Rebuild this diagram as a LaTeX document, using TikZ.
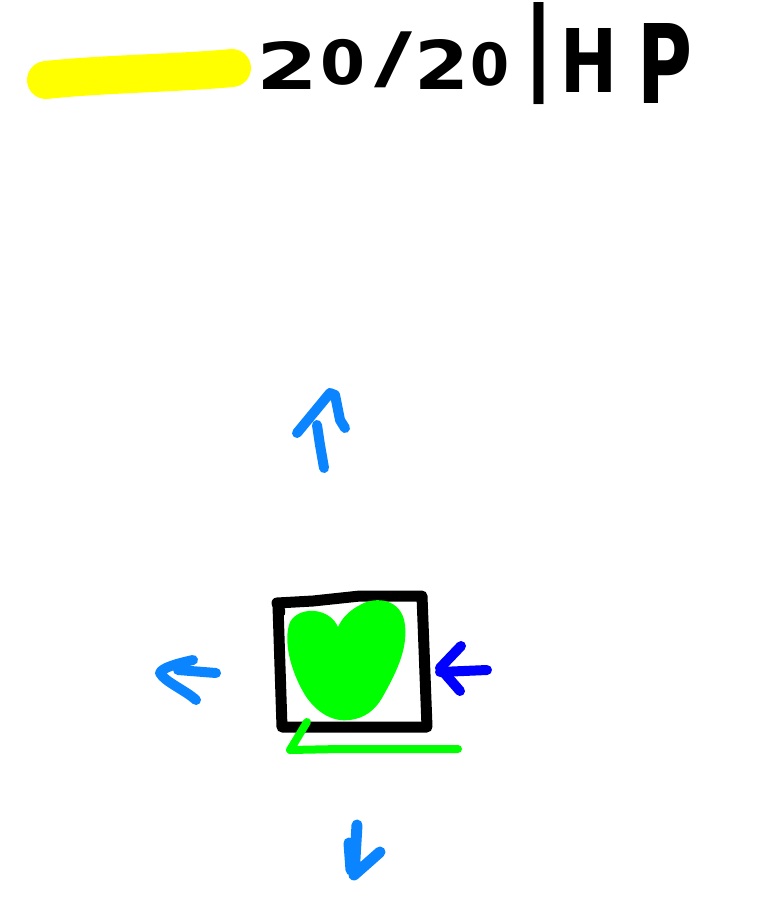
\documentclass[tikz,border=0pt]{standalone}
\usepackage{fontspec}
\usepackage{graphicx}
\setmainfont{DejaVu Sans}
\definecolor{lblue}{RGB}{10,132,255}
\definecolor{dblue}{RGB}{0,0,255}
\definecolor{hgreen}{RGB}{0,255,0}
\definecolor{hyellow}{RGB}{255,255,0}
\newcommand{\hglyph}[3]{\resizebox*{#1pt}{#2pt}{\bfseries #3}}
\tikzset{
  glyph/.style={inner sep=0pt, outer sep=0pt, text=black},
  inkblack/.style={draw=black, line width=11pt, line cap=round, line join=round},
  inkarrow/.style={draw=lblue, line width=10pt, line cap=round, line join=round},
  inkdark/.style={draw=dblue, line width=10pt, line cap=round, line join=round},
  inkgreen/.style={draw=hgreen, line width=8pt, line cap=round, line join=round},
  inkyellow/.style={draw=hyellow, line width=38pt, line cap=round, line join=round}
}
\begin{document}
\begin{tikzpicture}[x=1pt,y=-1pt]
\useasboundingbox[fill=white] (0,0) rectangle (768,916);
% yellow bar
\draw[inkyellow] (46,80) .. controls (100,74) and (180,73) .. (232,68);
% text 20/20|HP
\node[glyph] (c1) at (288,65) {\hglyph{62}{48}{2}};
\node[glyph] (c2) at (343,62) {\hglyph{45}{46}{0}};
\node[glyph] (c3) at (393,60) {\hglyph{38}{56}{/}};
\node[glyph] (c4) at (442,64) {\hglyph{55}{50}{2}};
\node[glyph] (c5) at (490,64) {\hglyph{39}{44}{0}};
\node[glyph] (c6) at (539,54) {\hglyph{33}{102}{|}};
\node[glyph] (c7) at (589,60) {\hglyph{57}{64}{H}};
\node[glyph] (c8) at (665,63) {\hglyph{55}{80}{P}};
% box
\draw[inkblack] (280,612) -- (277,603) -- (313,601) -- (360,596) -- (422,596) -- (427,727) -- (282,727) -- (278,606);
% heart
\fill[hgreen] (338,627) .. controls (330,608) and (300,605) .. (290,622)
  .. controls (283,640) and (290,670) .. (305,695)
  .. controls (318,715) and (335,722) .. (350,720)
  .. controls (365,718) and (375,710) .. (382,698)
  .. controls (395,675) and (408,650) .. (405,625)
  .. controls (402,598) and (375,596) .. (360,605)
  .. controls (350,610) and (342,618) .. (338,627) -- cycle;
% green line
\draw[inkgreen] (307,722) -- (290,750) -- (340,749) -- (458,749);
% up arrow
\draw[inkarrow] (297,433) -- (330,393) -- (335,395) -- (340,420) -- (345,428);
\draw[inkarrow] (317,425) -- (320,445) -- (324,468);
% down arrow
\draw[inkarrow, line width=11pt] (357,825) -- (354,875) -- (380,852);
\draw[inkarrow, line width=11pt] (349,843) -- (351,870);
% left arrow
\draw[inkarrow] (216,673) -- (178,670);
\draw[inkarrow] (193,660) .. controls (175,664) and (162,668) .. (160,673) .. controls (165,682) and (185,690) .. (196,700);
% right arrow
\draw[inkdark] (487,670) -- (440,672);
\draw[inkdark] (461,646) -- (440,668) -- (460,691);
\end{tikzpicture}
\end{document}
